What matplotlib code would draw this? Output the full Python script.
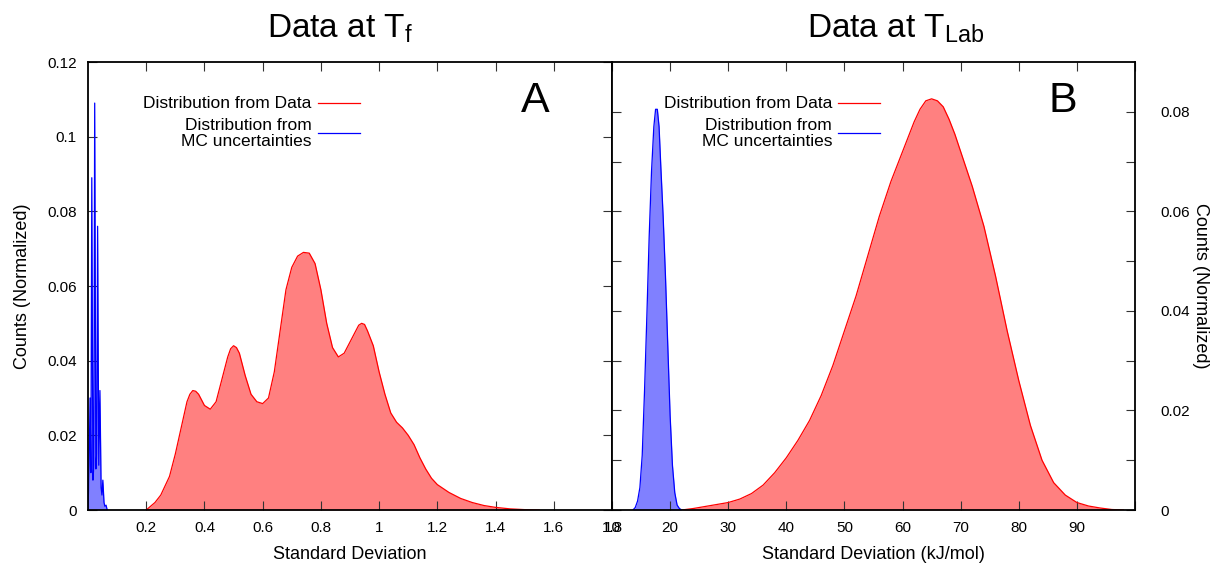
import matplotlib.pyplot as plt
import numpy as np

plt.rcParams['font.family'] = ['Liberation Sans', 'DejaVu Sans']

# Panel A: data at Tf
a_data_x = [0.20, 0.23, 0.25, 0.28, 0.30, 0.32, 0.34, 0.35, 0.36, 0.37, 0.38, 0.40, 0.42,
            0.44, 0.46, 0.48, 0.49, 0.50, 0.51, 0.52, 0.54, 0.56, 0.58, 0.60, 0.62, 0.64,
            0.66, 0.68, 0.70, 0.72, 0.74, 0.76, 0.78, 0.80, 0.82, 0.84, 0.86, 0.88, 0.90,
            0.92, 0.93, 0.94, 0.95, 0.96, 0.98, 1.00, 1.02, 1.04, 1.06, 1.08, 1.10, 1.12,
            1.14, 1.16, 1.18, 1.20, 1.24, 1.28, 1.32, 1.36, 1.40, 1.45, 1.50, 1.55]
a_data_y = [0.0, 0.002, 0.004, 0.009, 0.015, 0.022, 0.029, 0.031, 0.032, 0.0318, 0.031, 0.028,
            0.027, 0.029, 0.035, 0.041, 0.0432, 0.044, 0.0435, 0.042, 0.036, 0.031, 0.029,
            0.0285, 0.030, 0.037, 0.048, 0.059, 0.065, 0.068, 0.069, 0.0688, 0.066, 0.059,
            0.050, 0.0435, 0.041, 0.042, 0.045, 0.048, 0.0495, 0.050, 0.0497, 0.048, 0.044,
            0.037, 0.031, 0.026, 0.0235, 0.022, 0.020, 0.0175, 0.014, 0.011, 0.0085, 0.0068,
            0.0047, 0.0031, 0.002, 0.0012, 0.0007, 0.0003, 0.0001, 0.0]

a_mc_x = [0.0, 0.004, 0.007, 0.010, 0.013, 0.017, 0.020, 0.023, 0.027, 0.030, 0.033,
          0.037, 0.041, 0.045, 0.048, 0.051, 0.055, 0.058, 0.062, 0.066]
a_mc_y = [0.0, 0.012, 0.030, 0.010, 0.089, 0.008, 0.012, 0.109, 0.011, 0.015, 0.076,
          0.012, 0.032, 0.006, 0.004, 0.008, 0.002, 0.001, 0.0013, 0.0]

# Panel B: data at TLab (kJ/mol)
b_data_x = [22, 24, 26, 28, 30, 32, 34, 36, 38, 40, 42, 44, 46, 48, 50, 52, 54, 56, 58,
            60, 61, 62, 63, 64, 65, 66, 67, 68, 69, 70, 72, 74, 76, 78, 80, 82, 84, 86,
            88, 90, 92, 94, 96, 98]
b_data_y = [0.0, 0.0003, 0.0007, 0.0011, 0.0015, 0.0022, 0.0033, 0.005, 0.0075, 0.0105,
            0.014, 0.018, 0.023, 0.029, 0.036, 0.043, 0.051, 0.059, 0.066, 0.072, 0.075,
            0.078, 0.0805, 0.0822, 0.0826, 0.0822, 0.081, 0.0785, 0.0755, 0.072, 0.065,
            0.057, 0.047, 0.036, 0.026, 0.017, 0.010, 0.0055, 0.003, 0.0015, 0.0008,
            0.0004, 0.0001, 0.0]

b_mc_x = [13.6, 14.0, 14.4, 14.8, 15.2, 15.6, 16.0, 16.4, 16.8, 17.2, 17.5, 17.8, 18.1,
          18.4, 18.8, 19.2, 19.6, 20.0, 20.4, 20.8, 21.2, 21.6, 22.0]
b_mc_y = [0.0, 0.0005, 0.0018, 0.0045, 0.011, 0.024, 0.039, 0.055, 0.068, 0.077, 0.0805,
          0.0805, 0.077, 0.069, 0.059, 0.047, 0.033, 0.019, 0.009, 0.0035, 0.001, 0.0003,
          0.0]

red_fill = '#ff8080'
blue_fill = '#8080ff'

fig = plt.figure(figsize=(12.12, 5.67), dpi=100)
ax1 = fig.add_axes([88 / 1212, 57 / 567, 524 / 1212, 448 / 567])
ax2 = fig.add_axes([612 / 1212, 57 / 567, 523 / 1212, 448 / 567])

# panel A
ax1.fill_between(a_data_x, a_data_y, color=red_fill, lw=0)
ax1.plot(a_data_x, a_data_y, color='red', lw=0.9)
ax1.fill_between(a_mc_x, a_mc_y, color=blue_fill, lw=0)
ax1.plot(a_mc_x, a_mc_y, color='blue', lw=0.9)
ax1.set_xlim(0, 1.8)
ax1.set_ylim(0, 0.12)
ax1.set_xticks(np.arange(0.2, 1.81, 0.2))
ax1.set_xticklabels(['0.2', '0.4', '0.6', '0.8', '1', '1.2', '1.4', '1.6', '1.8'])
ax1.set_yticks(np.arange(0, 0.121, 0.02))
ax1.set_yticklabels(['0', '0.02', '0.04', '0.06', '0.08', '0.1', '0.12'])
ax1.tick_params(direction='in', length=6.5, width=0.8, top=True, right=True,
                labelsize=11, pad=8, color='#333333')
ax1.set_xlabel('Standard Deviation', fontsize=13, labelpad=8)
ax1.set_ylabel('Counts (Normalized)', fontsize=13, labelpad=12)
ax1.set_title('Data at T$_\\mathregular{f}$', fontsize=24, pad=18, x=0.481)
ax1.text(0.853, 0.912, 'A', transform=ax1.transAxes, fontsize=31, ha='center', va='center')

# panel B
ax2.fill_between(b_data_x, b_data_y, color=red_fill, lw=0)
ax2.plot(b_data_x, b_data_y, color='red', lw=0.9)
ax2.fill_between(b_mc_x, b_mc_y, color=blue_fill, lw=0)
ax2.plot(b_mc_x, b_mc_y, color='blue', lw=0.9)
ax2.set_xlim(10, 100)
ax2.set_ylim(0, 0.09)
ax2.set_xticks(np.arange(10, 91, 10))
ax2.set_xticks([100], minor=True)
ax2.set_yticks(np.arange(0, 0.081, 0.02))
ax2.set_yticklabels(['0', '0.02', '0.04', '0.06', '0.08'])
ax2.set_yticks(np.arange(0.01, 0.09, 0.02), minor=True)
ax2.yaxis.tick_right()
ax2.yaxis.set_label_position('right')
ax2.tick_params(which='both', direction='in', length=6.5, width=0.8, top=True, left=True,
                right=True, labelsize=11, pad=8, color='#333333')
ax2.tick_params(axis='y', which='both', labelleft=False, labelright=True, pad=18)
ax2.set_xlabel('Standard Deviation (kJ/mol)', fontsize=13, labelpad=8)
ax2.set_ylabel('Counts (Normalized)', fontsize=13, rotation=270, labelpad=14)
ax2.set_title('Data at T$_\\mathregular{Lab}$', fontsize=24, pad=18, x=0.543)
ax2.text(0.862, 0.912, 'B', transform=ax2.transAxes, fontsize=31, ha='center', va='center')

for ax, xt in ((ax1, 0.427), (ax2, 0.421)):
    for s in ax.spines.values():
        s.set_linewidth(1.3)
    ax.text(xt, 0.908, 'Distribution from Data', transform=ax.transAxes,
            fontsize=12.5, ha='right', va='center')
    ax.text(xt, 0.840, 'Distribution from\nMC uncertainties', transform=ax.transAxes,
            fontsize=12.5, ha='right', va='center', multialignment='right', linespacing=1.05)
    ax.plot([xt + 0.011, xt + 0.092], [0.908, 0.908], color='red', lw=0.9,
            transform=ax.transAxes)
    ax.plot([xt + 0.011, xt + 0.092], [0.842, 0.842], color='blue', lw=0.9,
            transform=ax.transAxes)

fig.savefig('out.png', dpi=100)
